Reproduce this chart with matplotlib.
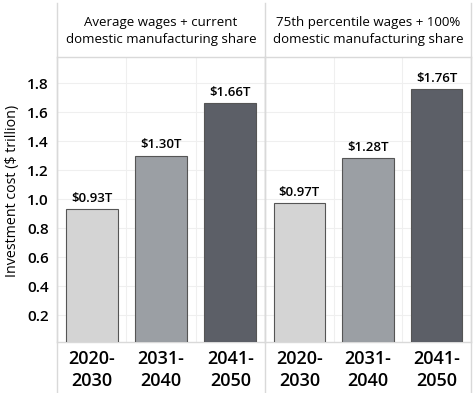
import matplotlib.pyplot as plt
from matplotlib.lines import Line2D

# data
periods = ['2020-\n2030', '2031-\n2040', '2041-\n2050']
scenarios = ['Average wages + current\ndomestic manufacturing share',
             '75th percentile wages + 100%\ndomestic manufacturing share']
cost_avg = [0.93, 1.30, 1.66]
cost_75th = [0.97, 1.28, 1.76]
bar_labels_avg = ['$0.93T', '$1.30T', '$1.66T']
bar_labels_75th = ['$0.97T', '$1.28T', '$1.76T']
yticks = [0.2, 0.4, 0.6, 0.8, 1.0, 1.2, 1.4, 1.6, 1.8]

bar_colors = ['#d4d4d4', '#9b9fa4', '#5c5f67']
frame_col = '#d9d9d9'
grid_col = '#efefef'

plt.rcParams['font.family'] = ['Open Sans', 'DejaVu Sans']
plt.rcParams['text.color'] = '#000000'

W, H = 475, 393
fig = plt.figure(figsize=(W / 100, H / 100), dpi=100)

def fx(px):
    return px / W

def fy(py):
    return 1 - py / H

top, bottom = 57, 342
panels = [(57, 265), (265, 471)]
series = [cost_avg, cost_75th]
labels = [bar_labels_avg, bar_labels_75th]

axs = []
for i, (x0, x1) in enumerate(panels):
    ax = fig.add_axes([fx(x0), fy(bottom), fx(x1 - x0), fy(top) - fy(bottom)])
    xs = range(len(periods))
    bars = ax.bar(xs, series[i], width=0.75, color=bar_colors,
                  edgecolor='#555555', linewidth=0.8, zorder=3)
    for b, lab in zip(bars, labels[i]):
        ax.annotate(lab, (b.get_x() + b.get_width() / 2, b.get_height()),
                    xytext=(0, 3), textcoords='offset points',
                    ha='center', va='bottom', fontsize=9.5, fontweight='semibold',
                    color='#000000')
    ax.set_xlim(-0.5, 2.5)
    ax.set_ylim(0.014, 1.98)
    ax.set_yticks(yticks)
    ax.set_xticks(list(xs))
    ax.set_xticklabels(periods, fontsize=13, fontweight='semibold',
                       linespacing=1.25, color='#000000')
    # vertical grid between categories
    ax.set_xticks([0.5, 1.5], minor=True)
    ax.grid(axis='x', which='minor', color=grid_col, linewidth=0.8, zorder=0)
    ax.grid(axis='y', which='major', color=grid_col, linewidth=0.8, zorder=0)
    ax.tick_params(axis='x', which='both', length=0, pad=6)
    ax.tick_params(axis='y', length=0, labelsize=11, pad=6, labelcolor='#000000')
    for lbl in ax.get_yticklabels():
        lbl.set_fontweight('semibold')
    for s in ax.spines.values():
        s.set_color(frame_col)
        s.set_linewidth(1.0)
    if i == 0:
        ax.set_ylabel('Investment cost ($ trillion)', fontsize=10.3)
        ax.yaxis.set_label_coords(-0.214, 0.53)
        ax.yaxis.label.set_va('center')
    else:
        ax.tick_params(axis='y', labelleft=False)
    # header text
    fig.text(fx((x0 + x1) / 2), fy(31), scenarios[i], ha='center', va='center',
             fontsize=9.5, linespacing=1.35, color='#000000')
    axs.append(ax)

# frame lines running through header and tick area
for x in (57, 265, 471):
    fig.add_artist(Line2D([fx(x), fx(x)], [fy(3), fy(393)], color=frame_col,
                          linewidth=1.0))

fig.savefig('out.png', dpi=100)
